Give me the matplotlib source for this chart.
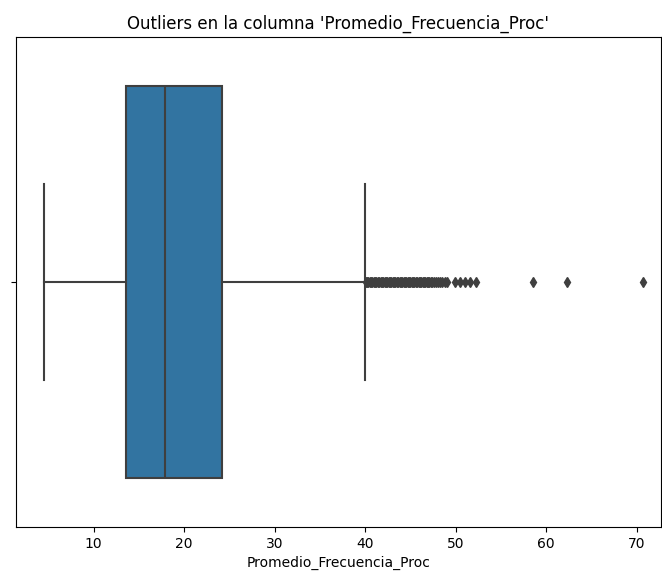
import matplotlib.pyplot as plt

# box summary
column = "Promedio_Frecuencia_Proc"
whisker_low = 4.55
q1 = 13.55
median = 17.9
q3 = 24.2
whisker_high = 40.0
outliers = [40.05, 40.2, 40.35, 40.5, 40.65, 40.8, 40.95, 41.1, 41.25, 41.4,
            41.55, 41.7, 41.85, 42.0, 42.15, 42.3, 42.45, 42.6, 42.75, 42.9,
            43.05, 43.2, 43.35, 43.5, 43.65, 43.8, 43.95, 44.1, 44.25, 44.4,
            44.55, 44.7, 44.85, 45.0, 45.15, 45.3, 45.45, 45.6, 45.75, 45.9,
            46.05, 46.2, 46.35, 46.5, 46.65, 46.8, 46.95, 47.1, 47.25, 47.4,
            47.6, 47.8, 48.0, 48.25, 48.5, 48.8, 49.1, 49.9, 50.5, 51.0, 51.6,
            52.3, 58.5, 62.3, 70.7]

stats = [{
    "whislo": whisker_low, "q1": q1, "med": median, "q3": q3,
    "whishi": whisker_high, "fliers": outliers,
}]

fig = plt.figure(figsize=(6.62, 5.72), dpi=100)
ax = fig.add_axes([15.7 / 662, 1 - 527 / 572, (661 - 15.7) / 662, (527 - 37) / 572])

gray = "#3f3f3f"
ax.bxp(stats, positions=[0], widths=0.8, vert=False, patch_artist=True,
       capwidths=0.4,
       boxprops=dict(facecolor="#3274a1", edgecolor=gray, linewidth=1.5),
       medianprops=dict(color=gray, linewidth=1.5),
       whiskerprops=dict(color=gray, linewidth=1.5),
       capprops=dict(color=gray, linewidth=1.5),
       flierprops=dict(marker="d", markerfacecolor=gray, markeredgecolor=gray,
                       markersize=5.5, linestyle="none"))

ax.set_ylim(0.5, -0.5)
ax.set_xlim(1.38, 72.7)
ax.set_yticks([0])
ax.set_yticklabels([""])
ax.set_xticks([10, 20, 30, 40, 50, 60, 70])
ax.set_xticklabels(["10", "20", "30", "40", "50", "60", "70"])
ax.set_xlabel(column)
ax.set_title(f"Outliers en la columna '{column}'")

fig.savefig("out.png", dpi=100)
